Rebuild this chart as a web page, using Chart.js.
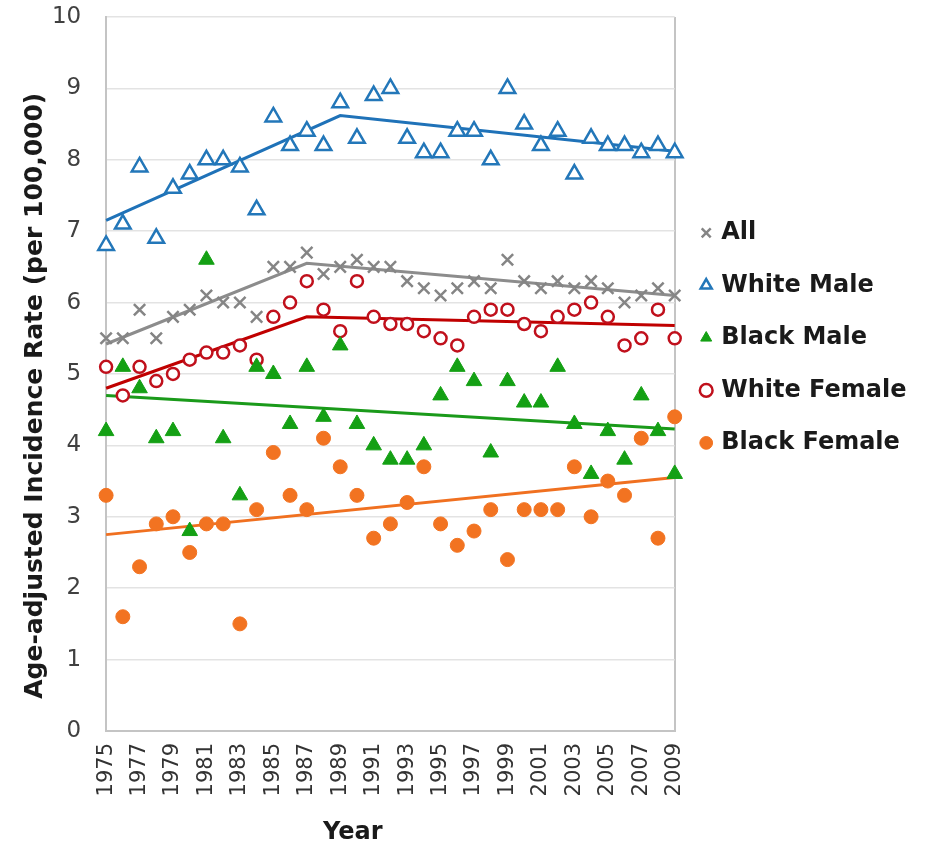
<!DOCTYPE html>
<html>
<head>
<meta charset="utf-8">
<script src="https://cdn.jsdelivr.net/npm/chart.js@4/dist/chart.umd.min.js"></script>
<style>
  html, body { margin: 0; padding: 0; background: #fff; }
  #wrap { width: 932px; height: 846px; }
</style>
</head>
<body>
<div id="wrap"><canvas id="chart" width="932" height="846"></canvas></div>
<script>
// Data
const years = [1975, 1976, 1977, 1978, 1979, 1980, 1981, 1982, 1983, 1984,
  1985, 1986, 1987, 1988, 1989, 1990, 1991, 1992, 1993, 1994,
  1995, 1996, 1997, 1998, 1999, 2000, 2001, 2002, 2003, 2004,
  2005, 2006, 2007, 2008, 2009];

const allRate = [5.5, 5.5, 5.9, 5.5, 5.8, 5.9, 6.1, 6.0, 6.0, 5.8,
  6.5, 6.5, 6.7, 6.4, 6.5, 6.6, 6.5, 6.5, 6.3, 6.2,
  6.1, 6.2, 6.3, 6.2, 6.6, 6.3, 6.2, 6.3, 6.2, 6.3,
  6.2, 6.0, 6.1, 6.2, 6.1];
const whiteMale = [6.8, 7.1, 7.9, 6.9, 7.6, 7.8, 8.0, 8.0, 7.9, 7.3,
  8.6, 8.2, 8.4, 8.2, 8.8, 8.3, 8.9, 9.0, 8.3, 8.1,
  8.1, 8.4, 8.4, 8.0, 9.0, 8.5, 8.2, 8.4, 7.8, 8.3,
  8.2, 8.2, 8.1, 8.2, 8.1];
const blackMale = [4.2, 5.1, 4.8, 4.1, 4.2, 2.8, 6.6, 4.1, 3.3, 5.1,
  5.0, 4.3, 5.1, 4.4, 5.4, 4.3, 4.0, 3.8, 3.8, 4.0,
  4.7, 5.1, 4.9, 3.9, 4.9, 4.6, 4.6, 5.1, 4.3, 3.6,
  4.2, 3.8, 4.7, 4.2, 3.6];
const whiteFemale = [5.1, 4.7, 5.1, 4.9, 5.0, 5.2, 5.3, 5.3, 5.4, 5.2,
  5.8, 6.0, 6.3, 5.9, 5.6, 6.3, 5.8, 5.7, 5.7, 5.6,
  5.5, 5.4, 5.8, 5.9, 5.9, 5.7, 5.6, 5.8, 5.9, 6.0,
  5.8, 5.4, 5.5, 5.9, 5.5];
const blackFemale = [3.3, 1.6, 2.3, 2.9, 3.0, 2.5, 2.9, 2.9, 1.5, 3.1,
  3.9, 3.3, 3.1, 4.1, 3.7, 3.3, 2.7, 2.9, 3.2, 3.7,
  2.9, 2.6, 2.8, 3.1, 2.4, 3.1, 3.1, 3.1, 3.7, 3.0,
  3.5, 3.3, 4.1, 2.7, 4.4];

// joinpoint trend lines: [year, rate]
const allTrend = [[1975, 5.42], [1987, 6.55], [2009, 6.1]];
const whiteMaleTrend = [[1975, 7.15], [1989, 8.62], [2009, 8.12]];
const blackMaleTrend = [[1975, 4.7], [2009, 4.23]];
const whiteFemaleTrend = [[1975, 4.8], [1987, 5.8], [2009, 5.68]];
const blackFemaleTrend = [[1975, 2.75], [2009, 3.55]];

const FONT = "'DejaVu Sans', Verdana, sans-serif";
const AXIS_GRAY = '#c4c4c4';
const nb = '\u00A0';

function trendData(points){
  // joinpoints on the year axis, the rest left empty (spanGaps joins them)
  return years.map(y => {
    const p = points.find(t => t[0] === y);
    return p ? p[1] : null;
  });
}

function markers(label, data, style, color, fill, radius, width){
  return {
    label: label,
    data: data,
    showLine: false,
    pointStyle: style,
    pointRadius: radius,
    pointHoverRadius: radius,
    borderColor: color,
    backgroundColor: fill,
    pointBorderColor: color,
    pointBackgroundColor: fill,
    borderWidth: width,
    pointBorderWidth: width
  };
}

function trend(points, color){
  return {
    label: 'trend',
    data: trendData(points),
    spanGaps: true,
    borderColor: color,
    borderWidth: 3,
    pointRadius: 0,
    pointHoverRadius: 0,
    fill: false
  };
}

const datasets = [
  markers('All', allRate, 'crossRot', '#858585', '#858585', 8, 2.5),
  markers('White Male', whiteMale, 'triangle', '#2377b9', '#ffffff', 9, 2.5),
  markers('Black Male', blackMale, 'triangle', '#14a014', '#14a014', 9, 1),
  markers('White Female', whiteFemale, 'circle', '#c0101c', '#ffffff', 6, 2.5),
  markers('Black Female', blackFemale, 'circle', '#f27321', '#f27321', 7, 1),
  trend(allTrend, '#8c8c8c'),
  trend(whiteMaleTrend, '#1f72b8'),
  trend(blackMaleTrend, '#1a9a1a'),
  trend(whiteFemaleTrend, '#c00000'),
  trend(blackFemaleTrend, '#f07020')
];

new Chart(document.getElementById('chart').getContext('2d'), {
  type: 'line',
  data: { labels: years, datasets: datasets },
  options: {
    responsive: false,
    animation: false,
    // negative left padding widens the room the layout allows for the legend
    layout: { padding: { left: -62, top: 17, right: 15.5, bottom: 0 } },
    plugins: {
      tooltip: { enabled: false },
      legend: {
        position: 'right',
        align: 'start',
        title: { display: true, text: ' ', padding: { top: 161, bottom: 0 } },
        labels: {
          usePointStyle: true,
          boxWidth: 6,
          boxHeight: 9,
          padding: 28.5,
          color: '#1a1a1a',
          font: { family: FONT, size: 24, weight: 'bold' },
          filter: item => item.text !== 'trend'
        }
      }
    },
    scales: {
      x: {
        type: 'category',
        offset: false,
        grid: {
          display: true,
          drawTicks: false,
          lineWidth: 2,
          // only the last line shows: the right edge of the plot box
          color: ctx => (ctx.index === years.length - 1 ? AXIS_GRAY : 'rgba(0,0,0,0)')
        },
        border: { display: true, color: AXIS_GRAY, width: 2 },
        ticks: {
          autoSkip: false,
          minRotation: 90,
          maxRotation: 90,
          padding: 12,
          color: '#333333',
          font: { family: FONT, size: 21 },
          callback: (v, i) => (i % 2 === 0 ? String(years[i]) : '')
        },
        title: {
          display: true,
          text: 'Year' + nb.repeat(9),
          color: '#1a1a1a',
          font: { family: FONT, size: 24, weight: 'bold' },
          padding: { top: 10.2, bottom: -1.4 }
        }
      },
      y: {
        min: 0,
        max: 10,
        grid: { color: '#e3e3e3', lineWidth: 1.5, drawTicks: false },
        border: { display: true, color: AXIS_GRAY, width: 2 },
        ticks: {
          stepSize: 1,
          padding: 3,
          color: '#404040',
          font: { family: FONT, size: 23 },
          callback: v => v + nb.repeat(3)
        },
        title: {
          display: true,
          text: 'Age-adjusted Incidence Rate (per 100,000)' + nb.repeat(5),
          color: '#1a1a1a',
          font: { family: FONT, size: 25, weight: 'bold' },
          padding: { top: 82, bottom: -1.1 }
        }
      }
    }
  }
});
</script>
</body>
</html>
